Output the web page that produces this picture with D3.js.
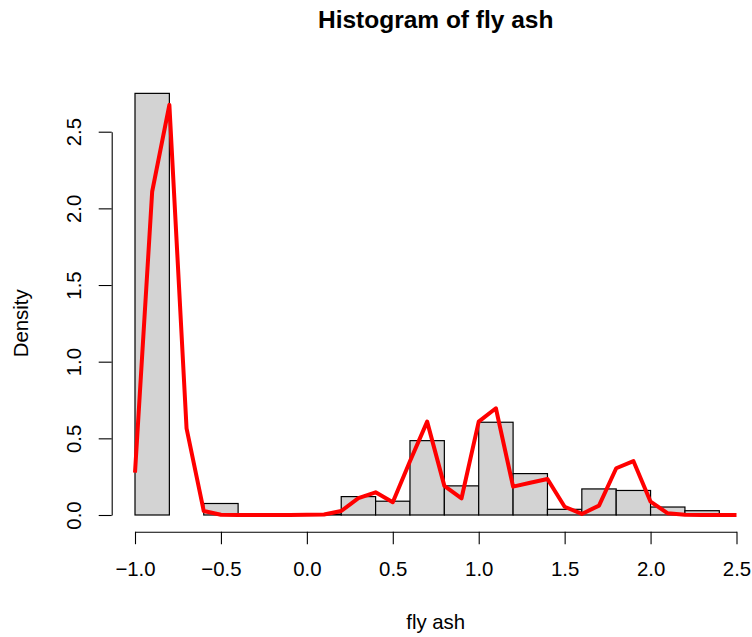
<!DOCTYPE html>
<html>
<head>
<meta charset="utf-8">
<script src="https://cdn.jsdelivr.net/npm/d3@7"></script>
<style>
    body { margin: 0; background: white; }
    text { font-family: "Liberation Sans", Arial, Helvetica, sans-serif; fill: black; }
</style>
</head>
<body>
<svg class="histogram__chart" width="752" height="637"></svg>
<script>
// histogram bins (left edge, width 0.2) and their densities
const binStarts = [-1.0, -0.8, -0.6, -0.4, -0.2, 0.0, 0.2, 0.4, 0.6, 0.8, 1.0, 1.2, 1.4, 1.6, 1.8, 2.0, 2.2];
const binDensity = [2.75, 0, 0.075, 0, 0, 0.006, 0.12, 0.09, 0.485, 0.19, 0.605, 0.27, 0.037, 0.17, 0.16, 0.052, 0.028];
const binWidth = 0.2;

// density curve (red line)
const curveX = [-1.0, -0.9, -0.8, -0.7, -0.6, -0.5, -0.4, -0.3, -0.2, -0.1, 0.0, 0.1, 0.2, 0.3, 0.4, 0.5, 0.6, 0.7,
                0.8, 0.9, 1.0, 1.1, 1.2, 1.3, 1.4, 1.5, 1.6, 1.7, 1.8, 1.9, 2.0, 2.1, 2.2, 2.3, 2.4, 2.5];
const curveY = [0.276, 2.11, 2.675, 0.565, 0.026, 0.002, 0, 0, 0, 0, 0.002, 0.003, 0.026, 0.11, 0.148, 0.083, 0.35, 0.609,
                0.19, 0.109, 0.609, 0.696, 0.185, 0.21, 0.235, 0.054, 0.007, 0.061, 0.305, 0.352, 0.087, 0.011, 0.002, 0, 0, 0];

const xTicks = [-1.0, -0.5, 0.0, 0.5, 1.0, 1.5, 2.0, 2.5];
const yTicks = [0.0, 0.5, 1.0, 1.5, 2.0, 2.5];

const fontSize = 20.4;
const svg = d3.select('.histogram__chart');

let xScale = d3.scaleLinear()
                .domain([-1.0, 2.5])
                .range([135, 736.5]);
let yScale = d3.scaleLinear()
                .domain([0, 2.5])
                .range([515, 131.7]);

//bars
svg.append('g')
    .selectAll('rect')
    .data(binStarts.map((x0, i) => ({x0: x0, density: binDensity[i]})))
    .enter()
    .append('rect')
        .attr('x', d => xScale(d.x0))
        .attr('y', d => yScale(d.density))
        .attr('width', d => xScale(d.x0 + binWidth) - xScale(d.x0))
        .attr('height', d => yScale(0) - yScale(d.density))
        .attr('fill', '#d3d3d3')
        .attr('stroke', 'black')
        .attr('stroke-width', 1.2);

//density line
let line = d3.line()
            .x(d => xScale(d[0]))
            .y(d => yScale(d[1]));
svg.append('path')
    .datum(curveX.map((x, i) => [x, curveY[i]]))
    .attr('d', line)
    .attr('fill', 'none')
    .attr('stroke', '#ff0000')
    .attr('stroke-width', 4)
    .attr('stroke-linejoin', 'round');

//x-Axis
let xAxis = d3.axisBottom(xScale)
                .tickValues(xTicks)
                .tickSize(12.5)
                .tickSizeOuter(0)
                .tickPadding(17)
                .tickFormat(d => d3.format('.1f')(d).replace('-', '\u2212'));
svg.append('g')
    .classed('axis axis--x', true)
    .attr('transform', 'translate(0, 531.7)')
    .call(xAxis);

//y-Axis
let yAxis = d3.axisLeft(yScale)
                .tickValues(yTicks)
                .tickSize(13)
                .tickSizeOuter(0)
                .tickFormat(d3.format('.1f'));
let yAxisG = svg.append('g')
    .classed('axis axis--y', true)
    .attr('transform', 'translate(111.7, 0)')
    .call(yAxis);
yAxisG.selectAll('.tick text')
    .attr('transform', 'rotate(-90)')
    .attr('x', 0)
    .attr('y', -30.5)
    .attr('dy', 0)
    .attr('text-anchor', 'middle');

svg.selectAll('.axis path, .axis line')
    .attr('stroke', 'black')
    .attr('stroke-width', 1.1);
svg.selectAll('.axis text')
    .attr('font-size', fontSize)
    .attr('font-family', '"Liberation Sans", Arial, sans-serif')
    .attr('fill', 'black');

//labels
svg.append('text')
    .attr('x', 435.7)
    .attr('y', 28)
    .attr('text-anchor', 'middle')
    .attr('font-size', 24.5)
    .attr('font-weight', 'bold')
    .text('Histogram of fly ash');

svg.append('text')
    .attr('x', 435.7)
    .attr('y', 629)
    .attr('text-anchor', 'middle')
    .attr('font-size', fontSize)
    .text('fly ash');

svg.append('text')
    .attr('transform', 'translate(28, 323.3) rotate(-90)')
    .attr('text-anchor', 'middle')
    .attr('font-size', fontSize)
    .text('Density');
</script>
</body>
</html>
